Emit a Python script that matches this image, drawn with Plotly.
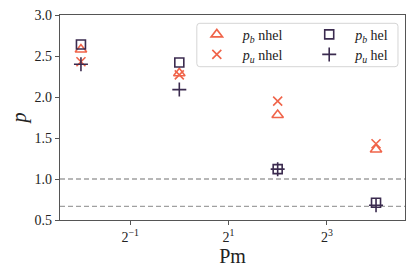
import plotly.graph_objects as go
import math

pm = [0.25, 1, 4, 16]
pb_nhel = [2.58, 2.29, 1.78, 1.36]
pu_nhel = [2.43, 2.27, 1.95, 1.43]
pb_hel = [2.64, 2.42, 1.12, 0.71]
pu_hel = [2.40, 2.09, 1.12, 0.68]
ref_lines = [1.0, 2/3]
xtick_vals = [0.5, 2, 8]
xtick_text = ["2<sup>\u22121</sup>", "2<sup>1</sup>", "2<sup>3</sup>"]
ytick_vals = [0.5, 1.0, 1.5, 2.0, 2.5, 3.0]

ORANGE = "#F0644A"
PURPLE = "#3B2B4F"
FONT = "Liberation Serif"
TXT = "#222222"

# page body has an 8px margin: shrink the figure so the visible window matches
OFF = 8
W, H = 415 - OFF, 277 - OFF
L, R, T, B = 60 - OFF, 10.3, 15 - OFF, 57
pw, ph = W - L - R, H - T - B


def px2paper(x, y):
    # x, y are window pixel coordinates
    return (x - OFF - L) / pw, (H - B - (y - OFF)) / ph


fig = go.Figure()

for y in ref_lines:
    fig.add_shape(type="line", xref="paper", yref="y", x0=0, x1=1, y0=y, y1=y,
                  line=dict(color="#A0A0A0", width=1.3, dash="5px,3px"), layer="below")

fig.add_trace(go.Scatter(x=pm, y=pb_nhel, mode="markers", name="<i>p</i><sub><i>b</i></sub> nhel",
                         marker=dict(symbol="triangle-up-open", size=10, color=ORANGE, line=dict(width=1.6, color=ORANGE)),
                         legend="legend"))
fig.add_trace(go.Scatter(x=pm, y=pu_nhel, mode="markers", name="<i>p</i><sub><i>u</i></sub> nhel",
                         marker=dict(symbol="x-thin", size=9, color=ORANGE, line=dict(width=1.6, color=ORANGE)),
                         legend="legend2"))
fig.add_trace(go.Scatter(x=pm, y=pb_hel, mode="markers", name="<i>p</i><sub><i>b</i></sub> hel",
                         marker=dict(symbol="square-open", size=9, color=PURPLE, line=dict(width=1.6, color=PURPLE)),
                         legend="legend3"))
fig.add_trace(go.Scatter(x=pm, y=pu_hel, mode="markers", name="<i>p</i><sub><i>u</i></sub> hel",
                         marker=dict(symbol="cross-thin", size=10, color=PURPLE, line=dict(width=1.6, color=PURPLE)),
                         legend="legend4"))

# legend frame (rounded)
x0p, y0p, x1p, y1p = 196.7, 23.3, 397.7, 66.7
r = 3


def P(x, y):
    a, b = px2paper(x, y)
    return f"{a:.5f},{b:.5f}"


path = (f"M {P(x0p + r, y0p)} L {P(x1p - r, y0p)} Q {P(x1p, y0p)} {P(x1p, y0p + r)} "
        f"L {P(x1p, y1p - r)} Q {P(x1p, y1p)} {P(x1p - r, y1p)} "
        f"L {P(x0p + r, y1p)} Q {P(x0p, y1p)} {P(x0p, y1p - r)} "
        f"L {P(x0p, y0p + r)} Q {P(x0p, y0p)} {P(x0p + r, y0p)} Z")
fig.add_shape(type="path", xref="paper", yref="paper", path=path,
              line=dict(color="#D5D5D5", width=1), fillcolor="rgba(255,255,255,0.8)", layer="above")

axis_common = dict(showline=True, linecolor="#555555", linewidth=1.2, mirror=True,
                   ticks="outside", ticklen=4, tickcolor="#555555", tickwidth=1,
                   showgrid=False, zeroline=False, automargin=False,
                   ticklabeloverflow="allow",
                   tickfont=dict(family=FONT, size=14, color=TXT))

ITEMW = 42


def leg(marker_x, ypx):
    # marker_x: symbol center (window px), ypx: row center (window px)
    xpx = marker_x - (ITEMW / 2 + 5)
    xa, ya = px2paper(xpx, ypx - 15.5)
    return dict(x=xa, y=ya, xanchor="left", yanchor="top", bgcolor="rgba(0,0,0,0)",
                borderwidth=0, font=dict(family=FONT, size=14, color=TXT), itemwidth=ITEMW)


fig.update_layout(
    width=W, height=H,
    showlegend=True,
    margin=dict(l=L, r=R, t=T, b=B, autoexpand=False),
    plot_bgcolor="white", paper_bgcolor="white",
    xaxis=dict(type="log", range=[-2.426 * math.log10(2), 4.589 * math.log10(2)],
               tickvals=xtick_vals, ticktext=xtick_text,
               title=dict(text="Pm", font=dict(family=FONT, size=20, color=TXT), standoff=4),
               **axis_common),
    yaxis=dict(range=[0.5, 3.0], tickvals=ytick_vals, tickformat=".1f",
               title=dict(text="<i>p</i>", font=dict(family=FONT, size=20, color=TXT), standoff=6),
               **axis_common),
    legend=leg(216.7, 34.3),
    legend2=leg(216.7, 54.3),
    legend3=leg(329, 34.3),
    legend4=leg(329, 54.3),
)

fig.write_html("out.html")
